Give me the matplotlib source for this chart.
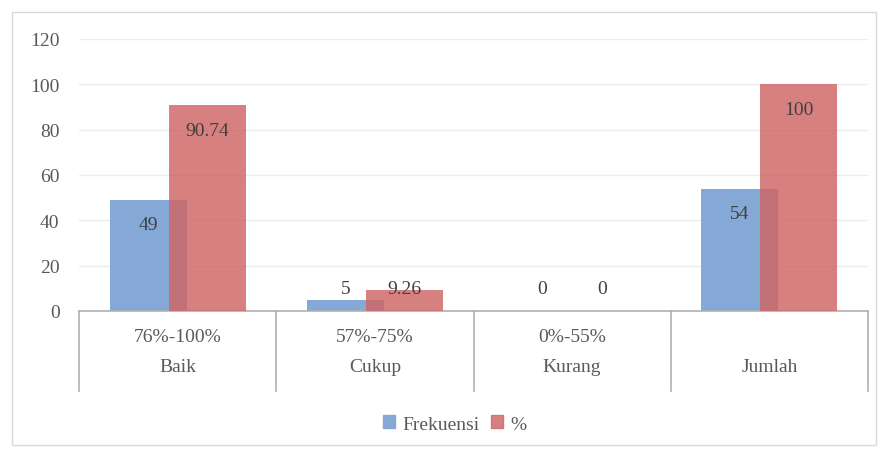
import matplotlib
matplotlib.use("Agg")
import matplotlib.pyplot as plt
from matplotlib.patches import Rectangle
from matplotlib.transforms import blended_transform_factory
import numpy as np

ranges = ["76%-100%", "57%-75%", "0%-55%", ""]
categories = ["Baik", "Cukup", "Kurang", "Jumlah"]
frekuensi = [49, 5, 0, 54]
persen = [90.74, 9.26, 0, 100]
freq_labels = ["49", "5", "0", "54"]
pct_labels = ["90.74", "9.26", "0", "100"]
yticks = [0, 20, 40, 60, 80, 100, 120]

plt.rcParams['font.family'] = ['Liberation Serif', 'DejaVu Serif']
text_color = "#595959"
blue = "#86a8d6"
red = "#cf6464"
red_alpha = 0.82
fs = 14

fig = plt.figure(figsize=(8.81, 4.52), dpi=100)
fig.patch.set_facecolor("white")
fig.patches.append(Rectangle((12 / 881, 1 - 446 / 452), 864 / 881, 433 / 452,
                             transform=fig.transFigure, fill=False,
                             edgecolor="#d9d9d9", linewidth=1.0))

ax = fig.add_axes([79 / 881, 1 - 312 / 452, 789 / 881, 272 / 452])
x = np.arange(len(categories))
w = 0.39
off = 0.15
ax.bar(x - off, frekuensi, w, color=blue, zorder=2)
ax.bar(x + off, persen, w, color=red, alpha=red_alpha, zorder=3)

ax.set_xlim(-0.5, len(categories) - 0.5)
ax.set_ylim(0, 120)
ax.set_yticks(yticks)
ax.set_yticklabels([str(t) for t in yticks], fontsize=fs, color=text_color)
ax.tick_params(axis='y', length=0, pad=14)
ax.set_xticks([])
ax.yaxis.grid(True, color="#ececec", linewidth=1.0, zorder=0)
ax.set_axisbelow(True)
for s in ["left", "right", "top"]:
    ax.spines[s].set_visible(False)
ax.spines["bottom"].set_color("#b0b0b0")
ax.spines["bottom"].set_linewidth(1.2)

def put_label(xpos, val, txt):
    if val >= 20:
        ax.annotate(txt, (xpos, val), xytext=(0, -18), textcoords="offset points",
                    ha="center", va="center", fontsize=fs, color="#404040", zorder=5)
    else:
        ax.text(xpos, 10, txt, ha="center", va="center", fontsize=fs,
                color="#404040", zorder=5)

for i in range(len(categories)):
    put_label(x[i] - off, frekuensi[i], freq_labels[i])
    put_label(x[i] + off, persen[i], pct_labels[i])

# two-level category axis
tr = blended_transform_factory(ax.transData, ax.transAxes)
sep_bottom = -(392 - 312) / 272
for b in np.arange(-0.5, len(categories), 1.0):
    ax.plot([b, b], [0, sep_bottom], transform=tr, color="#b0b0b0",
            linewidth=1.2, clip_on=False)
for i in range(len(categories)):
    if ranges[i]:
        ax.text(x[i], -(338 - 312) / 272, ranges[i], transform=tr, ha="center",
                va="center", fontsize=fs, color=text_color)
    ax.text(x[i], -(368 - 312) / 272, categories[i], transform=tr, ha="center",
            va="center", fontsize=fs, color=text_color)

handles = [Rectangle((0, 0), 1, 1, color=blue),
           Rectangle((0, 0), 1, 1, color=red, alpha=red_alpha)]
fig.legend(handles, ["Frekuensi", "%"], loc="center", bbox_to_anchor=(455 / 881, 1 - 425 / 452),
           ncol=2, frameon=False, fontsize=fs, handlelength=0.6, handleheight=0.6,
           handletextpad=0.4, columnspacing=0.6, labelcolor=text_color)

fig.savefig("out.png", dpi=100, facecolor="white")
